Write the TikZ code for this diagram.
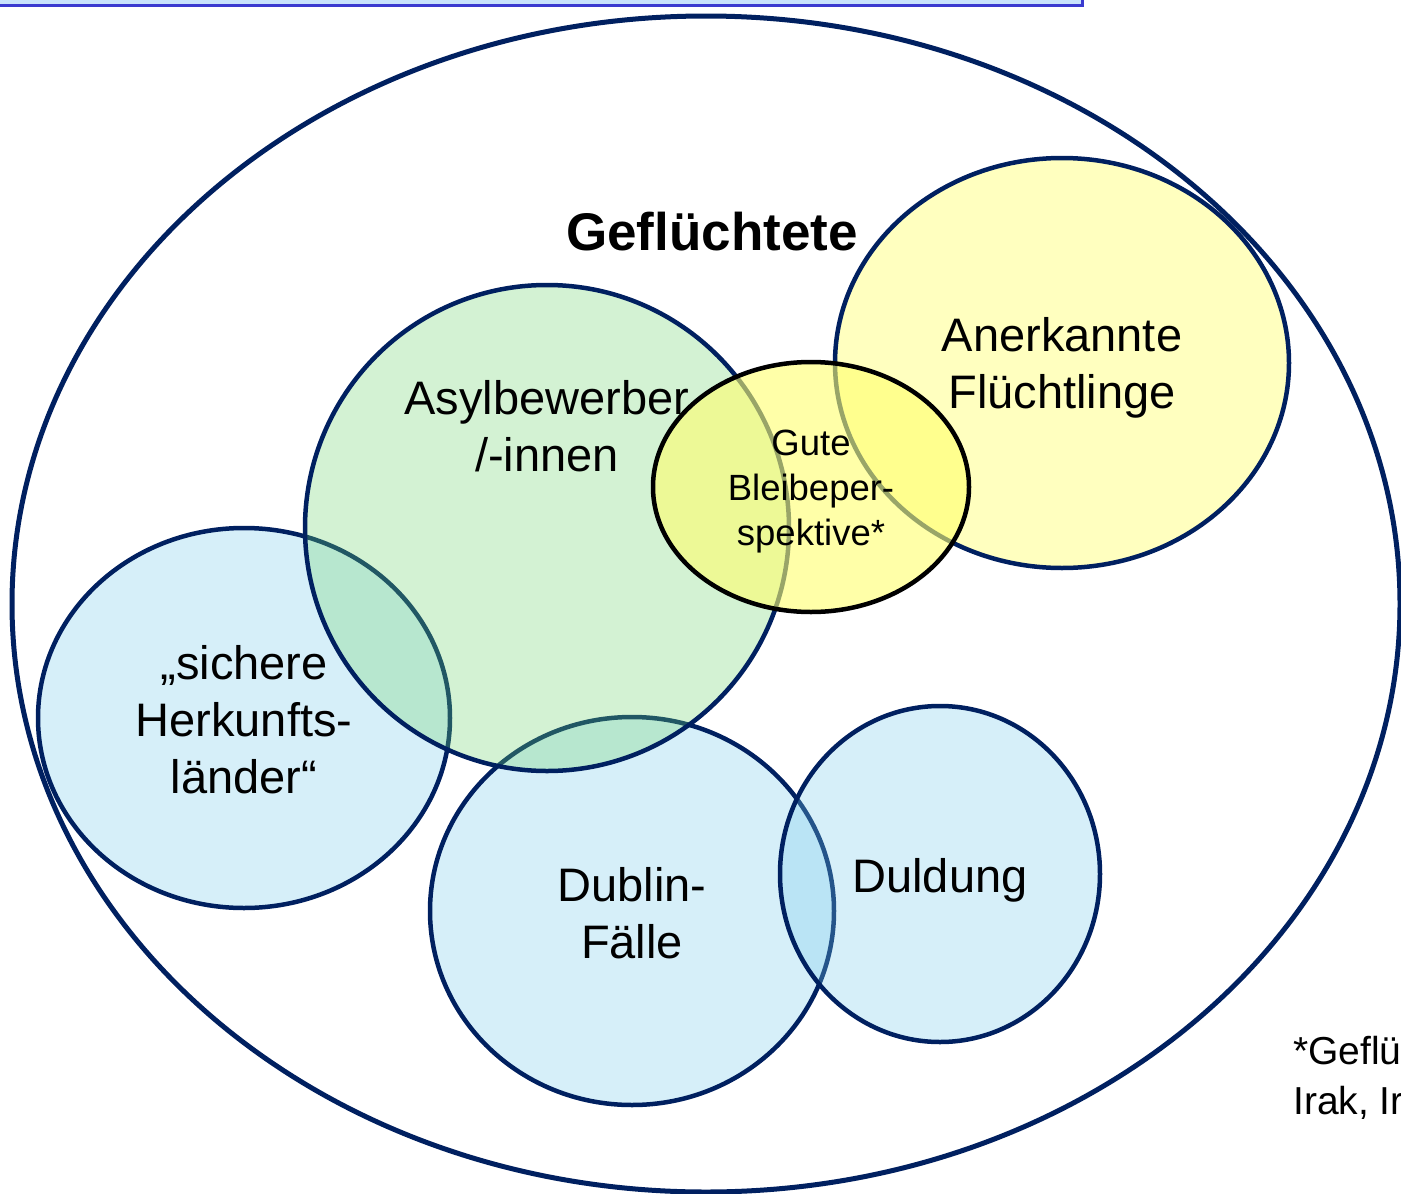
\documentclass[tikz,border=0pt]{standalone}
\usepackage{fontspec}
\setmainfont{Liberation Sans}
\definecolor{navy}{RGB}{0,32,96}
\definecolor{bluef}{RGB}{122,205,238}
\definecolor{greenf}{RGB}{112,215,112}
\definecolor{yellowf}{RGB}{255,255,45}
\definecolor{gutef}{RGB}{255,255,110}
\definecolor{boxfill}{RGB}{200,226,252}
\definecolor{boxline}{RGB}{58,58,208}
\begin{document}
\begin{tikzpicture}[x=1pt,y=-1pt,
  setshape/.style={draw=navy, line width=4.5, fill opacity=0.3},
  biglabel/.style={align=center, inner sep=0pt, font=\fontsize{47}{57}\selectfont},
  smalllabel/.style={align=center, inner sep=0pt, font=\fontsize{36.5}{45}\selectfont},
  notelabel/.style={anchor=base west, inner sep=0pt, font=\fontsize{39}{46}\selectfont}]
\useasboundingbox (0,0) rectangle (1401,1194);
\fill[white] (0,0) rectangle (1401,1194);
\begin{scope}
\clip (0,0) rectangle (1401,1194);
% top box
\path[fill=boxfill, draw=boxline, line width=3] (-10,-10) rectangle (1082,5);
% sets
\path[setshape, fill=bluef] (244,718) ellipse [x radius=206, y radius=190];
\path[setshape, fill=bluef] (632,911) ellipse [x radius=202, y radius=194];
\path[setshape, fill=bluef] (940,874) ellipse [x radius=160, y radius=168];
\path[setshape, fill=greenf] (547,528) ellipse [x radius=242, y radius=243];
\path[setshape, fill=yellowf] (1062,363) ellipse [x radius=227, y radius=205];
\path[draw=black, line width=4.5, fill=gutef, fill opacity=0.6] (811,487) ellipse [x radius=158, y radius=125];
% outer set
\draw[navy, line width=5] (706,604) ellipse [x radius=694, y radius=588];
% labels
\node[font=\bfseries\fontsize{53}{60}\selectfont, inner sep=0pt] (gefl) at (712,232) {Geflüchtete};
\node[biglabel] (asyl) at (547,426) {Asylbewerber\\/-innen};
\node[biglabel] (anerk) at (1062,368) {Anerkannte\\Flüchtlinge};
\node[smalllabel] (gute) at (811,492) {Gute\\Bleibeper-\\spektive*};
\node[biglabel] (sicher) at (244,720) {„sichere\\Herkunfts-\\länder“};
\node[biglabel] (dublin) at (632,913) {Dublin-\\Fälle};
\node[biglabel] (duld) at (940,880) {Duldung};
\node[notelabel] (note1) at (1293,1064) {*Geflüchtete aus Syrien, Eritrea,};
\node[notelabel] (note2) at (1293,1114) {Irak, Iran und Somalia};
\end{scope}
\end{tikzpicture}
\end{document}
